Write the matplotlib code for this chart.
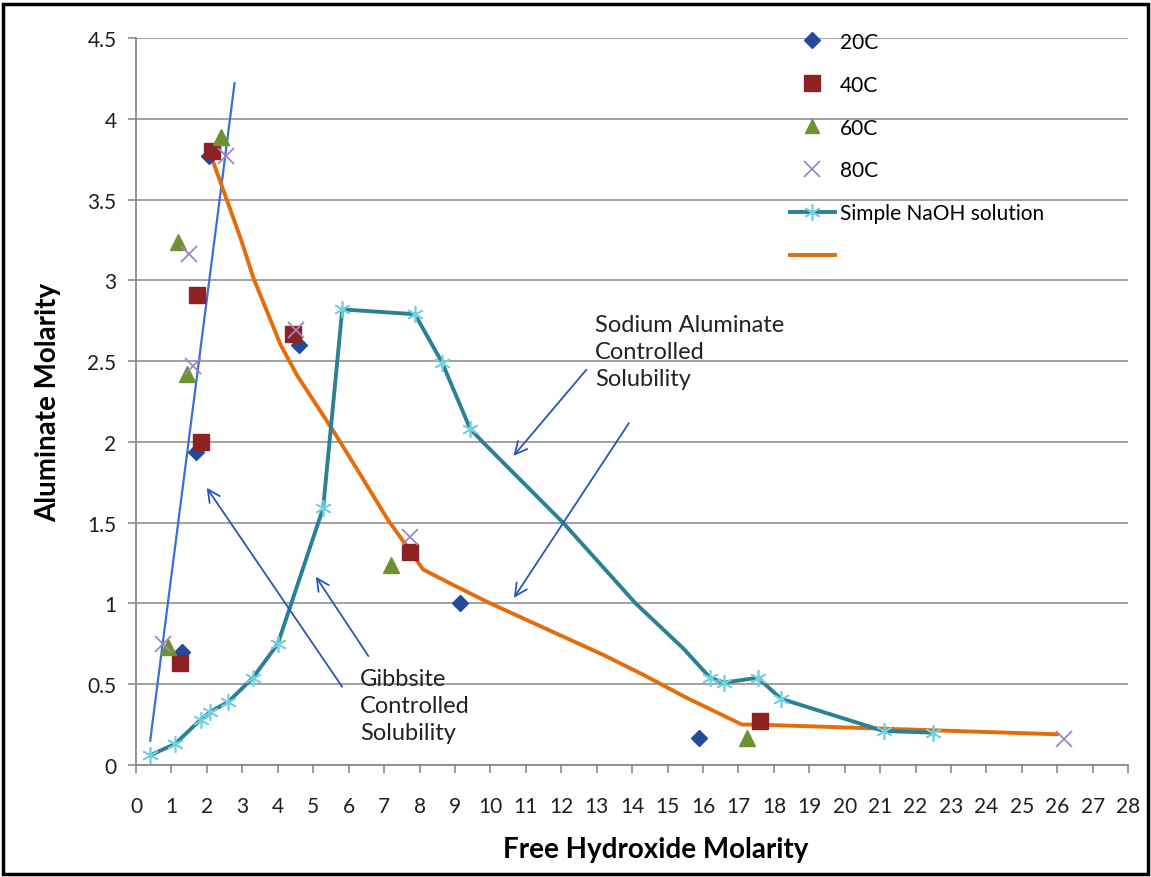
import numpy as np
import matplotlib
matplotlib.use('Agg')
import matplotlib.pyplot as plt
from matplotlib.lines import Line2D
from matplotlib.patches import Rectangle

plt.rcParams['font.family'] = ['Lato', 'DejaVu Sans']

# measured points, one list per temperature
x20 = [2.07, 4.6, 1.7, 1.3, 9.15, 15.9]
y20 = [3.77, 2.6, 1.94, 0.70, 1.0, 0.17]
x40 = [2.13, 1.73, 4.43, 1.82, 1.25, 7.73, 17.6]
y40 = [3.80, 2.91, 2.67, 2.0, 0.63, 1.32, 0.27]
x60 = [2.39, 1.19, 1.45, 0.9, 7.2, 17.25]
y60 = [3.89, 3.24, 2.42, 0.73, 1.24, 0.17]
x80 = [2.53, 1.5, 4.5, 7.73, 0.77, 26.2, 1.6]
y80 = [3.77, 3.16, 2.69, 1.41, 0.75, 0.16, 2.47]

# simple NaOH solution curve (markers only where drawn in the original)
naoh_x = [0.4, 1.1, 1.82, 2.1, 2.6, 3.3, 4.0, 5.28, 5.82, 7.87, 8.64, 9.43,
          9.87, 12.05, 14.1, 15.45, 16.2, 16.6, 17.55, 18.2, 21.1, 22.5]
naoh_y = [0.06, 0.13, 0.28, 0.33, 0.39, 0.54, 0.75, 1.59, 2.82, 2.79, 2.49, 2.08,
          1.98, 1.50, 1.0, 0.72, 0.54, 0.51, 0.54, 0.41, 0.21, 0.20]
naoh_marked = [0, 1, 2, 3, 4, 5, 6, 7, 8, 9, 10, 11, 16, 17, 18, 19, 20, 21]

# orange solubility curve
sol_x = [2.1, 2.95, 3.32, 4.08, 4.55, 5.59, 6.35, 7.1, 7.75, 8.1, 8.9, 10.0,
         11.6, 13.2, 14.3, 15.5, 17.1, 17.5, 26.0]
sol_y = [3.78, 3.26, 3.01, 2.60, 2.41, 2.06, 1.79, 1.52, 1.32, 1.21, 1.12, 1.0,
         0.84, 0.68, 0.56, 0.42, 0.25, 0.25, 0.19]

# straight gibbsite line
gib_x = [0.4, 2.78]
gib_y = [0.15, 4.22]

legend_labels = ['20C', '40C', '60C', '80C', 'Simple NaOH solution', ' ']

fig = plt.figure(figsize=(11.51, 8.78), dpi=100)
ax = fig.add_axes([0.1182, 0.1276, 0.862, 0.828])

ax.grid(axis='y', color='#9a9a9a', lw=1.3)
ax.set_axisbelow(True)

ax.plot(gib_x, gib_y, color='#3a6fd8', lw=1.6)
ax.plot(sol_x, sol_y, color='#e46c0a', lw=2.8, solid_capstyle='round',
        solid_joinstyle='round')
ax.plot(naoh_x, naoh_y, color='#2a8196', lw=2.8, marker=(6, 2, 0), markersize=12,
        markeredgecolor='#72cfe0', markeredgewidth=1.2, markevery=naoh_marked)

ax.plot(x20, y20, 'D', color='#234a9c', markersize=8, ls='none')
ax.plot(x40, y40, 's', color='#8e2222', markersize=12, ls='none')
ax.plot(x60, y60, '^', color='#6e9233', markersize=11, ls='none')
ax.plot(x80, y80, 'x', color='#9c88c4', markersize=11, mew=1.3, ls='none')

arrow_kw = dict(arrowstyle='->', color='#2a55b8', lw=1.3, mutation_scale=22)
ax.annotate('', xy=(1.95, 1.73), xytext=(5.86, 0.47), arrowprops=arrow_kw)
ax.annotate('', xy=(5.03, 1.18), xytext=(6.6, 0.66), arrowprops=arrow_kw)
ax.annotate('', xy=(10.6, 1.9), xytext=(12.76, 2.46), arrowprops=arrow_kw)
ax.annotate('', xy=(10.62, 1.02), xytext=(13.95, 2.13), arrowprops=arrow_kw)

ax.text(6.33, 0.6, 'Gibbsite\nControlled\nSolubility', fontsize=17, va='top',
        linespacing=1.35, color='#222222')
ax.text(12.95, 2.79, 'Sodium Aluminate\nControlled\nSolubility', fontsize=17,
        va='top', linespacing=1.35, color='#222222')

ax.set_xlim(0, 28)
ax.set_ylim(0, 4.5)
ax.set_xticks(range(0, 29))
ax.set_yticks(np.arange(0, 4.51, 0.5))
ax.set_yticklabels(['0', '0.5', '1', '1.5', '2', '2.5', '3', '3.5', '4', '4.5'])
ax.tick_params(labelsize=15, colors='#1e1e1e', length=6, width=1.2)
ax.tick_params(axis='both', color='#8a8a8a')
ax.tick_params(axis='x', pad=16)
ax.tick_params(axis='y', pad=8)
for s in ['top', 'right']:
    ax.spines[s].set_visible(False)
for s in ['left', 'bottom']:
    ax.spines[s].set_color('#8a8a8a')
    ax.spines[s].set_linewidth(1.3)

ax.set_xlabel('Free Hydroxide Molarity', fontsize=20, fontweight='bold')
ax.set_ylabel('Aluminate Molarity', fontsize=20, fontweight='bold')
ax.xaxis.set_label_coords(0.524, -0.1155)
ax.yaxis.set_label_coords(-0.0887, 0.5)
ax.xaxis.label.set_va('center')
ax.yaxis.label.set_va('center')

handles = [
    Line2D([], [], ls='none', marker='D', color='#234a9c', markersize=8),
    Line2D([], [], ls='none', marker='s', color='#8e2222', markersize=11),
    Line2D([], [], ls='none', marker='^', color='#6e9233', markersize=10),
    Line2D([], [], ls='none', marker='x', color='#9c88c4', markersize=11, mew=1.3),
    Line2D([], [], color='#2a8196', lw=2.8, marker=(6, 2, 0), markersize=12,
           markeredgecolor='#72cfe0', markeredgewidth=1.2),
    Line2D([], [], color='#e46c0a', lw=2.8),
]
ax.legend(handles, legend_labels, loc='upper left', bbox_to_anchor=(771 / 1151, 1 - 14 / 878),
          bbox_transform=fig.transFigure, frameon=False, fontsize=15,
          handlelength=2.15, handletextpad=0.25, labelspacing=1.1)

fig.add_artist(Rectangle((0.003, 0.003), 0.994, 0.991, transform=fig.transFigure,
                         fill=False, lw=2.5, edgecolor='black'))

fig.savefig('out.png', dpi=100)
